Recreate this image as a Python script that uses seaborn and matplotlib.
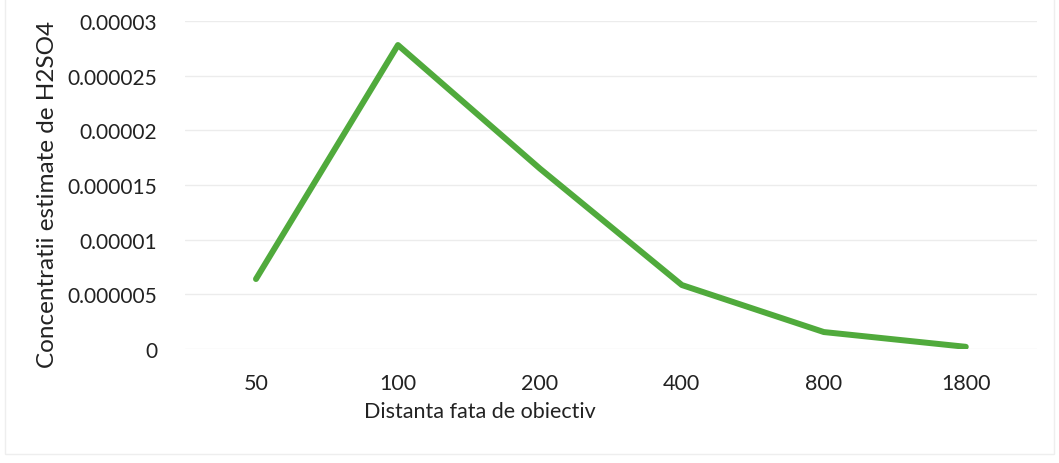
import matplotlib
matplotlib.use("Agg")
import matplotlib.pyplot as plt
import seaborn as sns
import pandas as pd
from matplotlib.patches import Rectangle

# Distance from target and estimated H2SO4 concentration
distances = ["50", "100", "200", "400", "800", "1800"]
concentrations = [6.4e-6, 2.78e-5, 1.65e-5, 5.85e-6, 1.55e-6, 2.0e-7]
y_ticks = [0, 0.000005, 0.00001, 0.000015, 0.00002, 0.000025, 0.00003]
y_tick_labels = ["0", "0.000005", "0.00001", "0.000015", "0.00002", "0.000025", "0.00003"]

df = pd.DataFrame({"dist": distances, "conc": concentrations})

sns.set_theme(style="white")
plt.rcParams["font.family"] = ["Lato", "DejaVu Sans"]

fig = plt.figure(figsize=(10.59, 4.64), dpi=100)
ax = fig.add_axes([0.1747, 0.2457, 0.8043, 0.7069])

sns.lineplot(data=df, x="dist", y="conc", ax=ax, color="#50aa3c",
             linewidth=4.3, sort=False, solid_capstyle="round")

ax.set_xlim(-0.5, len(distances) - 0.5)
ax.set_ylim(0, 0.00003)
ax.set_yticks(y_ticks)
ax.set_yticklabels(y_tick_labels)
ax.set_xticks(range(len(distances)))
ax.set_xticklabels(distances)

ax.grid(axis="y", color="#ececec", linewidth=1.0)
ax.set_axisbelow(True)
for s in ax.spines.values():
    s.set_visible(False)

ax.tick_params(axis="both", length=0, colors="#222222")
ax.tick_params(axis="y", pad=20, labelsize=15)
ax.tick_params(axis="x", pad=17, labelsize=15.5)

ax.set_ylabel("Concentratii estimate de H2SO4", fontsize=17.5, color="#222222")
ax.yaxis.set_label_coords(-0.149, 0.473)
ax.set_xlabel("Distanta fata de obiectiv", fontsize=15.5, color="#222222")
ax.xaxis.set_label_coords(0.346, -0.158)

# faint frame around the chart area
fig.patches.append(Rectangle((0.005, 0.02), 0.99, 1.2, transform=fig.transFigure,
                             fill=False, edgecolor="#eeeeee", linewidth=1.0))

fig.savefig("out.png", dpi=100, facecolor="white")
